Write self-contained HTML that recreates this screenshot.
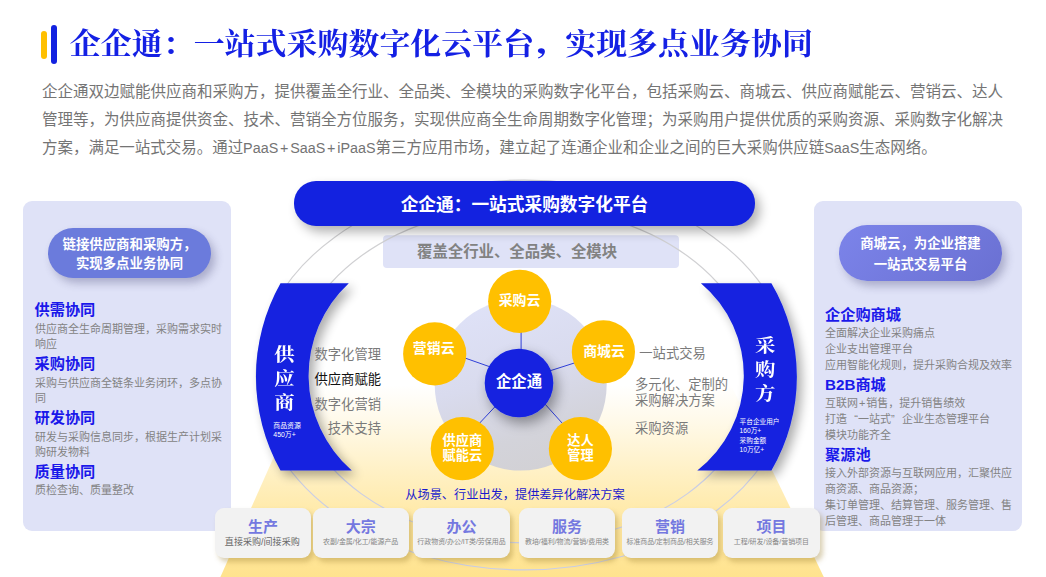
<!DOCTYPE html>
<html lang="zh-CN">
<head>
<meta charset="utf-8">
<title>企企通：一站式采购数字化云平台</title>
<style>
*{margin:0;padding:0;box-sizing:border-box}
html,body{width:1046px;height:577px;background:#fff;overflow:hidden}
body{font-family:"Liberation Sans","Noto Sans CJK SC",sans-serif;color:#595959;position:relative}
#stage{position:absolute;left:0;top:0;width:1046px;height:577px;overflow:hidden;background:#fff}
.abs{position:absolute;white-space:nowrap}
#bg{position:absolute;left:0;top:0}
.bar-y{position:absolute;left:41px;top:31px;width:6px;height:28px;border-radius:3px;background:#ffc000}
.bar-b{position:absolute;left:51px;top:25px;width:6px;height:39px;border-radius:3px;background:#1322e0}
h1{position:absolute;left:69.8px;top:21.4px;transform:scaleY(0.95);transform-origin:0 34.2px;height:46px;line-height:46px;font-family:"Liberation Serif","Noto Serif CJK SC",serif;font-weight:bold;font-size:30.9px;letter-spacing:0.07px;color:#1420e4;white-space:nowrap}
h1 .cm{display:inline-block;position:relative;left:3.5px;top:-3px;font-weight:900;transform:scale(1.15,0.85);transform-origin:30% 80%}
.para{position:absolute;left:42px;width:965px;height:28px;line-height:28px;font-size:15.5px;color:#747474;white-space:nowrap}
.la{font-size:14.35px}
.la i{font-style:normal;margin:0 1.8px}
.q{display:inline-block;width:1em;text-align:left}
.q.r{text-align:right}
.pl{margin:0 0.9px}
.panel{position:absolute;top:201px;width:208px;height:330px;border-radius:9px;background:#dfe2f7}
.pill{position:absolute;border-radius:28px;color:#fff;font-weight:bold;font-size:13.4px;text-align:center;line-height:19px;white-space:nowrap;box-shadow:4px 5px 9px rgba(60,60,110,.32)}
.hd{position:absolute;font-size:15.2px;font-weight:bold;color:#1a18ea;line-height:20px;height:20px;white-space:nowrap}
.ds{position:absolute;font-size:11px;color:#838383;line-height:16px;height:16px;white-space:nowrap}
.top{position:absolute;left:294px;top:181px;width:461px;height:44.5px;border-radius:22px;background:#1322e0;color:#fff;font-weight:bold;font-size:17.7px;line-height:49px;text-align:center;box-shadow:5px 6px 11px rgba(0,0,0,.3)}
.sub{position:absolute;left:383px;top:235px;width:296px;height:33px;padding-left:34px;color:#828282;font-weight:bold;font-size:15.4px;line-height:33px;text-align:left;white-space:nowrap}
.yc{position:absolute;width:64px;height:64px;border-radius:50%;background:#ffc000;color:#fff;font-weight:bold;font-size:13.5px;line-height:17px;display:flex;align-items:center;justify-content:center;text-align:center}
.cc{position:absolute;left:486px;top:348px;width:66px;height:66px;border-radius:50%;background:#1322e0;color:#fff;font-weight:bold;font-size:15px;line-height:66px;text-align:center;box-shadow:3px 5px 8px rgba(0,0,0,.3)}
.yl{position:absolute;width:80px;text-align:center;color:#fff;font-weight:bold;font-size:13.9px;line-height:20px;white-space:nowrap}
.yl.s{font-size:13.2px;line-height:15.1px}
.cl{position:absolute;left:479px;top:370px;width:80px;text-align:center;color:#fff;font-weight:bold;font-size:15.4px;line-height:23px;white-space:nowrap}
.li{position:absolute;font-size:13.3px;color:#7a7a7a;line-height:16px;white-space:nowrap}
.vt{position:absolute;font-family:"Liberation Serif","Noto Serif CJK SC",serif;font-weight:bold;font-size:20.4px;color:#fff;line-height:26.85px;width:24px;text-align:center;transform:scaleY(0.89);transform-origin:0 0}
.sm{position:absolute;font-size:6.9px;color:#fff;line-height:9.8px;white-space:nowrap}
.card{position:absolute;top:508px;width:96px;height:50px;border-radius:9px;background:#f2f2f2;box-shadow:3px 4px 5px rgba(150,120,40,.35);text-align:center}
.card b{display:block;font-size:15px;line-height:18px;margin-top:10.2px;color:#7478e0;font-weight:bold}
.card span{display:block;font-size:6.95px;line-height:10px;margin-top:0.6px;color:#858585;white-space:nowrap;margin-left:-10px;margin-right:-10px}
.card span.big{font-size:9.05px;color:#666;margin-top:1.2px;margin-left:-11.4px}
.slogan{position:absolute;left:380px;top:486px;width:270px;text-align:center;font-size:12.2px;line-height:18px;color:#1a1acd;white-space:nowrap}
</style>
</head>
<body>
<div id="stage">

<svg id="bg" width="1046" height="577" viewBox="0 0 1046 577">
  <defs>
    <linearGradient id="gy" gradientUnits="userSpaceOnUse" x1="0" y1="385" x2="0" y2="577">
      <stop offset="0" stop-color="#ffe596" stop-opacity="0"/>
      <stop offset="0.2" stop-color="#ffe596" stop-opacity="0.22"/>
      <stop offset="0.45" stop-color="#ffe596" stop-opacity="0.55"/>
      <stop offset="0.65" stop-color="#ffe596" stop-opacity="0.8"/>
      <stop offset="1" stop-color="#ffe38e" stop-opacity="1"/>
    </linearGradient>
    <linearGradient id="gc" x1="0.3" y1="0" x2="0.6" y2="1">
      <stop offset="0" stop-color="#dfe2f8"/>
      <stop offset="0.45" stop-color="#d9dbee"/>
      <stop offset="0.8" stop-color="#d3d3da"/>
      <stop offset="1" stop-color="#d2d1d5"/>
    </linearGradient>
    <linearGradient id="ge" gradientUnits="userSpaceOnUse" x1="0" y1="180" x2="0" y2="577">
      <stop offset="0" stop-color="#d0d0d0"/>
      <stop offset="0.6" stop-color="#cfcfd6"/>
      <stop offset="0.8" stop-color="#c9cde6"/>
      <stop offset="1" stop-color="#c9cde6"/>
    </linearGradient>
    <filter id="shc" x="-40%" y="-40%" width="190%" height="190%">
      <feGaussianBlur in="SourceAlpha" stdDeviation="6.5"/>
      <feOffset dx="4" dy="6"/>
      <feComponentTransfer><feFuncA type="linear" slope="0.38"/></feComponentTransfer>
      <feMerge><feMergeNode/><feMergeNode in="SourceGraphic"/></feMerge>
    </filter>
    <filter id="sh" x="-30%" y="-30%" width="160%" height="160%">
      <feGaussianBlur in="SourceAlpha" stdDeviation="5.5"/>
      <feOffset dx="5" dy="5"/>
      <feComponentTransfer><feFuncA type="linear" slope="0.33"/></feComponentTransfer>
      <feMerge><feMergeNode/><feMergeNode in="SourceGraphic"/></feMerge>
    </filter>
  </defs>
  <polygon points="305.8,385 731,385 823.8,577 220.4,577" fill="url(#gy)"/>
  <rect x="383" y="235.3" width="296" height="32.7" rx="4" fill="#dfe2f7"/>
  <ellipse cx="524.1" cy="375" rx="267.8" ry="194.9" fill="none" stroke="url(#ge)" stroke-width="1.15"/>
  <ellipse cx="524.3" cy="374.8" rx="230.8" ry="168" fill="none" stroke="url(#ge)" stroke-width="1.15"/>
  <circle cx="520.7" cy="384.6" r="86" fill="url(#gc)"/>
  <g stroke="#2f3fd8" stroke-width="1">
    <line x1="521.1" y1="325" x2="521.1" y2="355"/>
    <line x1="455" y1="354.5" x2="495" y2="368.6"/>
    <line x1="545" y1="372.4" x2="580" y2="361.2"/>
    <line x1="500" y1="401.4" x2="475" y2="428"/>
    <line x1="540" y1="398.5" x2="566" y2="427.4"/>
  </g>
  <circle cx="519" cy="383" r="34.3" fill="#1322e0" filter="url(#shc)"/>
  <g fill="#ffc000">
    <circle cx="519.7" cy="301.3" r="31.6"/>
    <circle cx="434.7" cy="353.9" r="31.6"/>
    <circle cx="603.4" cy="351.9" r="31.6"/>
    <circle cx="462.3" cy="448.7" r="31.6"/>
    <circle cx="580.4" cy="448.7" r="31.6"/>
  </g>
  <path d="M280.5,283.2 L348.8,283.2 A126,126 0 0 0 351.8,470.5 L280.5,470.5 A191,191 0 0 1 280.5,283.2 Z" fill="#1322e0" filter="url(#sh)"/>
  <path d="M771.4,283.2 L700.9,283.2 A120.5,120.5 0 0 1 697.3,470.5 L771.4,470.5 A185,185 0 0 0 771.4,283.2 Z" fill="#1322e0" filter="url(#sh)"/>
</svg>

<div class="bar-y"></div><div class="bar-b"></div>
<h1>企企通：一站式采购数字化云平台<span class="cm">，</span>实现多点业务协同</h1>
<div class="para" style="top:78px">企企通双边赋能供应商和采购方，提供覆盖全行业、全品类、全模块的采购数字化平台，包括采购云、商城云、供应商赋能云、营销云、达人</div>
<div class="para" style="top:106px">管理等，为供应商提供资金、技术、营销全方位服务，实现供应商全生命周期数字化管理；为采购用户提供优质的采购资源、采购数字化解决</div>
<div class="para" style="top:134px;font-size:15.47px">方案，满足一站式交易。通过<span class="la">PaaS<i>+</i>SaaS<i>+</i>iPaaS</span>第三方应用市场，建立起了连通企业和企业之间的巨大采购供应链<span class="la">SaaS</span>生态网络。</div>

<!-- left panel -->
<div class="panel" style="left:23px"></div>
<div class="pill" style="left:48px;top:228px;width:163px;height:50px;padding-top:8.3px;line-height:18.7px;background:#6b7bdc">链接供应商和采购方，<br>实现多点业务协同</div>
<div class="hd" style="left:34.5px;top:299.7px">供需协同</div>
<div class="ds" style="left:35px;top:320.7px">供应商全生命周期管理，采购需求实时</div>
<div class="ds" style="left:35px;top:335.7px">响应</div>
<div class="hd" style="left:34.5px;top:353.7px">采购协同</div>
<div class="ds" style="left:35px;top:374.7px">采购与供应商全链条业务闭环，多点协</div>
<div class="ds" style="left:35px;top:389.7px">同</div>
<div class="hd" style="left:34.5px;top:407.7px">研发协同</div>
<div class="ds" style="left:35px;top:428.7px">研发与采购信息同步，根据生产计划采</div>
<div class="ds" style="left:35px;top:443.7px">购研发物料</div>
<div class="hd" style="left:34.5px;top:461.7px">质量协同</div>
<div class="ds" style="left:35px;top:482px">质检查询、质量整改</div>

<!-- right panel -->
<div class="panel" style="left:814px"></div>
<div class="pill" style="left:839px;top:225px;width:163px;height:56px;padding-top:9.3px;line-height:20.3px;background:linear-gradient(135deg,#7c84ea,#6a70d2)">商城云，为企业搭建<br>一站式交易平台</div>
<div class="hd" style="left:825px;top:305.4px">企企购商城</div>
<div class="ds" style="left:825px;top:325.4px">全面解决企业采购痛点</div>
<div class="ds" style="left:825px;top:341.4px">企业支出管理平台</div>
<div class="ds" style="left:825px;top:357.4px">应用智能化规则，提升采购合规及效率</div>
<div class="hd" style="left:825px;top:374.8px">B2B商城</div>
<div class="ds" style="left:825px;top:395.4px">互联网<span class="pl">+</span>销售，提升销售绩效</div>
<div class="ds" style="left:825px;top:411.4px">打造<span class="q r">“</span>一站式<span class="q">”</span>企业生态管理平台</div>
<div class="ds" style="left:825px;top:427.4px">模块功能齐全</div>
<div class="hd" style="left:825px;top:444.8px">聚源池</div>
<div class="ds" style="left:825px;top:465.4px">接入外部资源与互联网应用，汇聚供应</div>
<div class="ds" style="left:825px;top:481.4px">商资源、商品资源；</div>
<div class="ds" style="left:825px;top:497.4px">集订单管理、结算管理、服务管理、售</div>
<div class="ds" style="left:825px;top:513.4px">后管理、商品管理于一体</div>

<!-- center -->
<div class="top">企企通：一站式采购数字化平台</div>
<div class="sub">覆盖全行业、全品类、全模块</div>

<div class="yl" style="left:479.5px;top:290px">采购云</div>
<div class="yl" style="left:393.7px;top:338px">营销云</div>
<div class="yl" style="left:564px;top:341.2px">商城云</div>
<div class="yl s" style="left:422.3px;top:433px">供应商<br>赋能云</div>
<div class="yl s" style="left:540.4px;top:433px">达人<br>管理</div>
<div class="cl">企企通</div>

<div class="vt" style="left:272.4px;top:343.2px">供<br>应<br>商</div>
<div class="sm" style="left:273.3px;top:420.6px">商品资源<br>450万+</div>
<div class="vt" style="left:753.3px;top:334.2px">采<br>购<br>方</div>
<div class="sm" style="left:739.6px;top:416.8px;font-size:6.65px;line-height:9.4px">平台企业用户<br>160万+<br>采购金额<br>10万亿+</div>

<div class="li" style="right:665px;top:347.1px">数字化管理</div>
<div class="li" style="right:665px;top:372.3px;color:#111">供应商赋能</div>
<div class="li" style="right:665px;top:396.6px">数字化营销</div>
<div class="li" style="right:665px;top:421px">技术支持</div>

<div class="li" style="left:639.3px;top:345.8px">一站式交易</div>
<div class="li" style="left:635px;top:377px">多元化、定制的</div>
<div class="li" style="left:635px;top:392.6px">采购解决方案</div>
<div class="li" style="left:635px;top:420.8px">采购资源</div>

<div class="slogan">从场景、行业出发，提供差异化解决方案</div>

<div class="card" style="left:215px"><b>生产</b><span class="big">直接采购/间接采购</span></div>
<div class="card" style="left:312.5px;width:96.4px"><b>大宗</b><span>农副/金属/化工/能源产品</span></div>
<div class="card" style="left:413px;width:97px"><b>办公</b><span>行政物资/办公/IT类/劳保用品</span></div>
<div class="card" style="left:519px"><b>服务</b><span>教培/福利/物流/营销/费用类</span></div>
<div class="card" style="left:622px"><b>营销</b><span>标准商品/定制商品/相关服务</span></div>
<div class="card" style="left:723px;width:96.8px"><b>项目</b><span>工程/研发/设备/营销项目</span></div>

</div>
</body>
</html>
